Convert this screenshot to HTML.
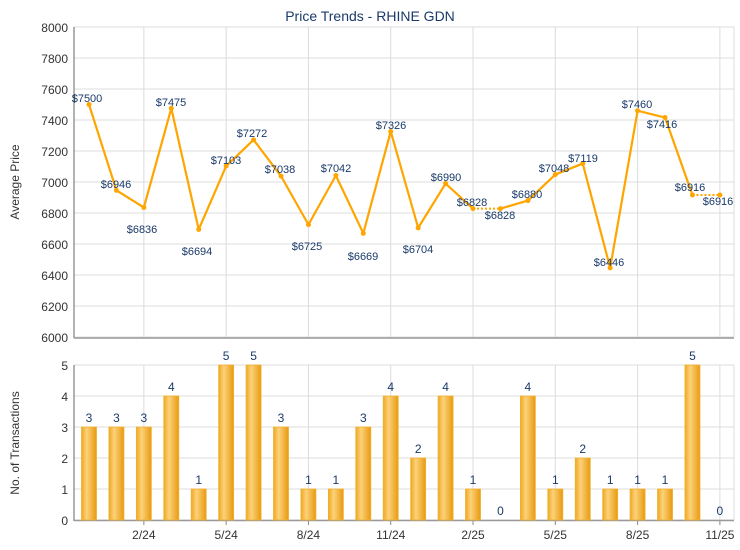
<!DOCTYPE html>
<html><head><meta charset="utf-8"><style>
html,body{margin:0;padding:0;background:#fff;}
svg{display:block;font-family:"Liberation Sans",sans-serif;}
</style></head><body>
<svg width="740" height="550" viewBox="0 0 740 550" xmlns="http://www.w3.org/2000/svg">
<defs>
<linearGradient id="bg" x1="0" x2="1" y1="0" y2="0">
<stop offset="0" stop-color="#f0a820"/><stop offset="0.35" stop-color="#fcd27a"/><stop offset="1" stop-color="#e89a10"/>
</linearGradient>
</defs>
<text x="370" y="21" text-anchor="middle" font-size="14" fill="#1a3a6a">Price Trends - RHINE GDN</text>
<g id="grid" stroke="#dcdcdc" stroke-width="1"></g>
<g id="axes"></g>
<g id="content"></g>
<text transform="translate(19,182) rotate(-90)" text-anchor="middle" font-size="12" fill="#333">Average Price</text>
<text transform="translate(19,443) rotate(-90)" text-anchor="middle" font-size="12" fill="#333">No. of Transactions</text>
</svg>
<script>
var NS="http://www.w3.org/2000/svg";
function el(t,a,p,txt){var e=document.createElementNS(NS,t);for(var k in a)e.setAttribute(k,a[k]);if(txt!==undefined)e.textContent=txt;(p||document.querySelector('svg')).appendChild(e);return e;}
var g=document.getElementById('grid'),ax=document.getElementById('axes'),c=document.getElementById('content');
var L=74,R=734;
function X(i){return 89+27.43*i;}
// top grid
for(var v=6000;v<=8000;v+=200){var y=337-(v-6000)*0.155;el('line',{x1:L,x2:R,y1:y,y2:y},g);el('text',{x:68,y:y+5,'text-anchor':'end','font-size':12,fill:'#333'},ax,v);}
for(var v=0;v<=5;v++){var y=520-v*31;el('line',{x1:L,x2:R,y1:y,y2:y},g);el('text',{x:68,y:y+5,'text-anchor':'end','font-size':12,fill:'#333'},ax,v);}
var ticks=[[2,'2/24'],[5,'5/24'],[8,'8/24'],[11,'11/24'],[14,'2/25'],[17,'5/25'],[20,'8/25'],[23,'11/25']];
ticks.forEach(function(t){var x=X(t[0]);el('line',{x1:x,x2:x,y1:27,y2:337},g);el('line',{x1:x,x2:x,y1:365,y2:520},g);
el('line',{x1:x,x2:x,y1:520,y2:525,stroke:'#888'},ax);el('text',{x:x,y:539,'text-anchor':'middle','font-size':12,fill:'#333'},ax,t[1]);});
el('line',{x1:R,x2:R,y1:27,y2:337},g);el('line',{x1:R,x2:R,y1:365,y2:520},g);
el('line',{x1:L,x2:L,y1:27,y2:338,stroke:'#666'},ax);el('line',{x1:L,x2:R,y1:338,y2:338,stroke:'#999','stroke-width':1.5},ax);
el('line',{x1:L,x2:L,y1:365,y2:521,stroke:'#666'},ax);el('line',{x1:L,x2:R,y1:520.5,y2:520.5,stroke:'#999','stroke-width':1.5},ax);
var P=[7500,6946,6836,7475,6694,7103,7272,7038,6725,7042,6669,7326,6704,6990,6828,6828,6880,7048,7119,6446,7460,7416,6916,6916];
var N=[3,3,3,4,1,5,5,3,1,1,3,4,2,4,1,0,4,1,2,1,1,1,5,0];
var LP=[[87,98],[116,184],[142,229],[171,102],[197,251],[226,160],[252,133],[280,169],[307,246],[336,168],[363,256],[391,125],[418,249],[446,177],[472,202],[500,215],[527,194],[554,168],[583,158],[609,262],[637,104],[662,124],[690,187],[718,201]];
// bars
N.forEach(function(n,i){var x=X(i);if(n>0){el('rect',{x:x-7.5,y:520-n*31,width:15,height:n*31,fill:'url(#bg)',stroke:'#f0b030','stroke-width':0.8},c);}
el('text',{x:x,y:520-n*31-5,'text-anchor':'middle','font-size':12,fill:'#1a3a6a'},c,n);});
// line
function Y(p){return 337-(p-6000)*0.155;}
for(var i=0;i<P.length-1;i++){var dotted=(i==14||i==22);
el('line',{x1:X(i),y1:Y(P[i]),x2:X(i+1),y2:Y(P[i+1]),stroke:'#ffa500','stroke-width':dotted?2:2.2,'stroke-dasharray':dotted?'2,2':'none'},c);}
P.forEach(function(p,i){el('circle',{cx:X(i),cy:Y(p),r:2.5,fill:'#ffa500'},c);
el('text',{x:LP[i][0],y:LP[i][1]+4,'text-anchor':'middle','font-size':11,fill:'#1a3a6a'},c,'$'+p);});
</script>
</body></html>
